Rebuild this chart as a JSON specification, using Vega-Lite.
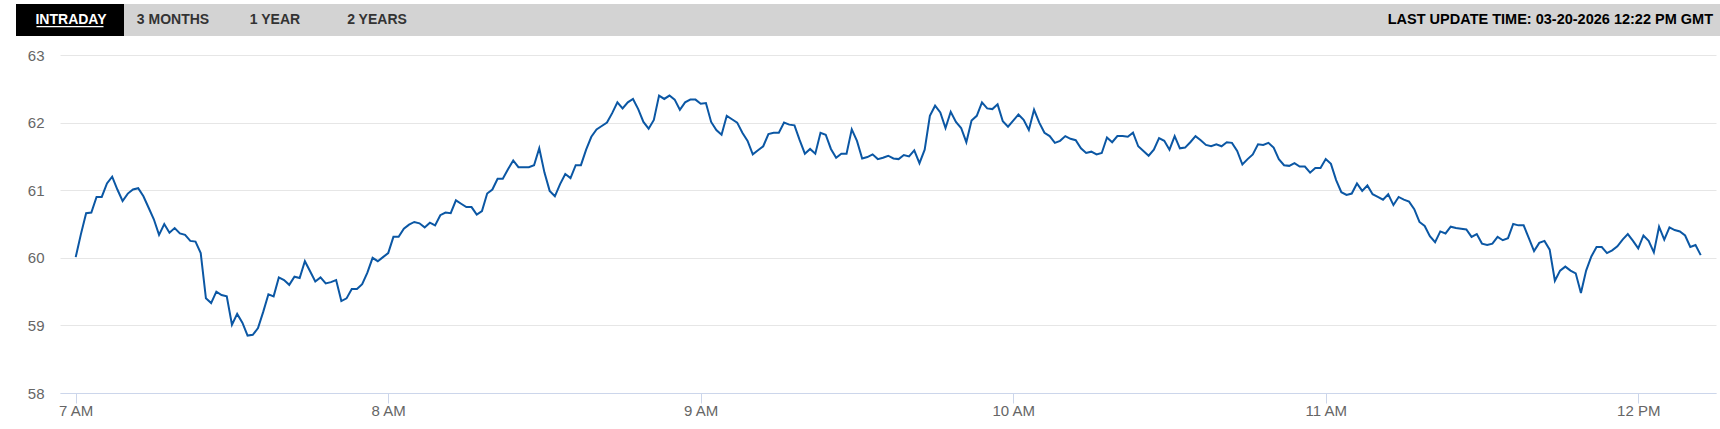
{
  "$schema": "https://vega.github.io/schema/vega-lite/v6.json",
  "background": "#ffffff",
  "width": 1720,
  "height": 429,
  "autosize": {"type": "fit", "contains": "padding"},
  "padding": 0,
  "config": {"view": {"stroke": null}, "font": "Liberation Sans"},
  "layer": [
    {
      "data": {
        "values": [
{"t":"2026-03-20T07:00:00Z","v":60.01},{"t":"2026-03-20T07:01:00Z","v":60.35},{"t":"2026-03-20T07:02:00Z","v":60.66},{"t":"2026-03-20T07:03:00Z","v":60.67},{"t":"2026-03-20T07:04:00Z","v":60.90},{"t":"2026-03-20T07:05:00Z","v":60.90},{"t":"2026-03-20T07:06:00Z","v":61.10},{"t":"2026-03-20T07:07:00Z","v":61.20},{"t":"2026-03-20T07:08:00Z","v":61.01},{"t":"2026-03-20T07:09:00Z","v":60.84},
{"t":"2026-03-20T07:10:00Z","v":60.95},{"t":"2026-03-20T07:11:00Z","v":61.01},{"t":"2026-03-20T07:12:00Z","v":61.03},{"t":"2026-03-20T07:13:00Z","v":60.91},{"t":"2026-03-20T07:14:00Z","v":60.74},{"t":"2026-03-20T07:15:00Z","v":60.57},{"t":"2026-03-20T07:16:00Z","v":60.34},{"t":"2026-03-20T07:17:00Z","v":60.50},{"t":"2026-03-20T07:18:00Z","v":60.37},{"t":"2026-03-20T07:19:00Z","v":60.44},
{"t":"2026-03-20T07:20:00Z","v":60.36},{"t":"2026-03-20T07:21:00Z","v":60.34},{"t":"2026-03-20T07:22:00Z","v":60.25},{"t":"2026-03-20T07:23:00Z","v":60.24},{"t":"2026-03-20T07:24:00Z","v":60.07},{"t":"2026-03-20T07:25:00Z","v":59.40},{"t":"2026-03-20T07:26:00Z","v":59.33},{"t":"2026-03-20T07:27:00Z","v":59.50},{"t":"2026-03-20T07:28:00Z","v":59.45},{"t":"2026-03-20T07:29:00Z","v":59.43},
{"t":"2026-03-20T07:30:00Z","v":59.01},{"t":"2026-03-20T07:31:00Z","v":59.17},{"t":"2026-03-20T07:32:00Z","v":59.04},{"t":"2026-03-20T07:33:00Z","v":58.85},{"t":"2026-03-20T07:34:00Z","v":58.86},{"t":"2026-03-20T07:35:00Z","v":58.96},{"t":"2026-03-20T07:36:00Z","v":59.20},{"t":"2026-03-20T07:37:00Z","v":59.46},{"t":"2026-03-20T07:38:00Z","v":59.43},{"t":"2026-03-20T07:39:00Z","v":59.71},
{"t":"2026-03-20T07:40:00Z","v":59.67},{"t":"2026-03-20T07:41:00Z","v":59.60},{"t":"2026-03-20T07:42:00Z","v":59.72},{"t":"2026-03-20T07:43:00Z","v":59.70},{"t":"2026-03-20T07:44:00Z","v":59.95},{"t":"2026-03-20T07:45:00Z","v":59.80},{"t":"2026-03-20T07:46:00Z","v":59.65},{"t":"2026-03-20T07:47:00Z","v":59.71},{"t":"2026-03-20T07:48:00Z","v":59.62},{"t":"2026-03-20T07:49:00Z","v":59.64},
{"t":"2026-03-20T07:50:00Z","v":59.67},{"t":"2026-03-20T07:51:00Z","v":59.36},{"t":"2026-03-20T07:52:00Z","v":59.40},{"t":"2026-03-20T07:53:00Z","v":59.54},{"t":"2026-03-20T07:54:00Z","v":59.54},{"t":"2026-03-20T07:55:00Z","v":59.61},{"t":"2026-03-20T07:56:00Z","v":59.78},{"t":"2026-03-20T07:57:00Z","v":60.00},{"t":"2026-03-20T07:58:00Z","v":59.95},{"t":"2026-03-20T07:59:00Z","v":60.01},
{"t":"2026-03-20T08:00:00Z","v":60.07},{"t":"2026-03-20T08:01:00Z","v":60.31},{"t":"2026-03-20T08:02:00Z","v":60.31},{"t":"2026-03-20T08:03:00Z","v":60.43},{"t":"2026-03-20T08:04:00Z","v":60.49},{"t":"2026-03-20T08:05:00Z","v":60.53},{"t":"2026-03-20T08:06:00Z","v":60.51},{"t":"2026-03-20T08:07:00Z","v":60.45},{"t":"2026-03-20T08:08:00Z","v":60.52},{"t":"2026-03-20T08:09:00Z","v":60.48},
{"t":"2026-03-20T08:10:00Z","v":60.63},{"t":"2026-03-20T08:11:00Z","v":60.67},{"t":"2026-03-20T08:12:00Z","v":60.66},{"t":"2026-03-20T08:13:00Z","v":60.85},{"t":"2026-03-20T08:14:00Z","v":60.80},{"t":"2026-03-20T08:15:00Z","v":60.75},{"t":"2026-03-20T08:16:00Z","v":60.75},{"t":"2026-03-20T08:17:00Z","v":60.64},{"t":"2026-03-20T08:18:00Z","v":60.69},{"t":"2026-03-20T08:19:00Z","v":60.95},
{"t":"2026-03-20T08:20:00Z","v":61.01},{"t":"2026-03-20T08:21:00Z","v":61.17},{"t":"2026-03-20T08:22:00Z","v":61.17},{"t":"2026-03-20T08:23:00Z","v":61.31},{"t":"2026-03-20T08:24:00Z","v":61.44},{"t":"2026-03-20T08:25:00Z","v":61.34},{"t":"2026-03-20T08:26:00Z","v":61.34},{"t":"2026-03-20T08:27:00Z","v":61.34},{"t":"2026-03-20T08:28:00Z","v":61.37},{"t":"2026-03-20T08:29:00Z","v":61.62},
{"t":"2026-03-20T08:30:00Z","v":61.26},{"t":"2026-03-20T08:31:00Z","v":60.99},{"t":"2026-03-20T08:32:00Z","v":60.91},{"t":"2026-03-20T08:33:00Z","v":61.09},{"t":"2026-03-20T08:34:00Z","v":61.24},{"t":"2026-03-20T08:35:00Z","v":61.18},{"t":"2026-03-20T08:36:00Z","v":61.37},{"t":"2026-03-20T08:37:00Z","v":61.37},{"t":"2026-03-20T08:38:00Z","v":61.60},{"t":"2026-03-20T08:39:00Z","v":61.79},
{"t":"2026-03-20T08:40:00Z","v":61.90},{"t":"2026-03-20T08:41:00Z","v":61.95},{"t":"2026-03-20T08:42:00Z","v":62.00},{"t":"2026-03-20T08:43:00Z","v":62.14},{"t":"2026-03-20T08:44:00Z","v":62.30},{"t":"2026-03-20T08:45:00Z","v":62.21},{"t":"2026-03-20T08:46:00Z","v":62.30},{"t":"2026-03-20T08:47:00Z","v":62.35},{"t":"2026-03-20T08:48:00Z","v":62.20},{"t":"2026-03-20T08:49:00Z","v":62.01},
{"t":"2026-03-20T08:50:00Z","v":61.91},{"t":"2026-03-20T08:51:00Z","v":62.04},{"t":"2026-03-20T08:52:00Z","v":62.40},{"t":"2026-03-20T08:53:00Z","v":62.35},{"t":"2026-03-20T08:54:00Z","v":62.40},{"t":"2026-03-20T08:55:00Z","v":62.34},{"t":"2026-03-20T08:56:00Z","v":62.19},{"t":"2026-03-20T08:57:00Z","v":62.30},{"t":"2026-03-20T08:58:00Z","v":62.34},{"t":"2026-03-20T08:59:00Z","v":62.34},
{"t":"2026-03-20T09:00:00Z","v":62.28},{"t":"2026-03-20T09:01:00Z","v":62.29},{"t":"2026-03-20T09:02:00Z","v":62.01},{"t":"2026-03-20T09:03:00Z","v":61.89},{"t":"2026-03-20T09:04:00Z","v":61.82},{"t":"2026-03-20T09:05:00Z","v":62.10},{"t":"2026-03-20T09:06:00Z","v":62.05},{"t":"2026-03-20T09:07:00Z","v":62.00},{"t":"2026-03-20T09:08:00Z","v":61.85},{"t":"2026-03-20T09:09:00Z","v":61.73},
{"t":"2026-03-20T09:10:00Z","v":61.53},{"t":"2026-03-20T09:11:00Z","v":61.59},{"t":"2026-03-20T09:12:00Z","v":61.65},{"t":"2026-03-20T09:13:00Z","v":61.83},{"t":"2026-03-20T09:14:00Z","v":61.85},{"t":"2026-03-20T09:15:00Z","v":61.85},{"t":"2026-03-20T09:16:00Z","v":62.00},{"t":"2026-03-20T09:17:00Z","v":61.97},{"t":"2026-03-20T09:18:00Z","v":61.96},{"t":"2026-03-20T09:19:00Z","v":61.74},
{"t":"2026-03-20T09:20:00Z","v":61.54},{"t":"2026-03-20T09:21:00Z","v":61.61},{"t":"2026-03-20T09:22:00Z","v":61.54},{"t":"2026-03-20T09:23:00Z","v":61.85},{"t":"2026-03-20T09:24:00Z","v":61.82},{"t":"2026-03-20T09:25:00Z","v":61.61},{"t":"2026-03-20T09:26:00Z","v":61.48},{"t":"2026-03-20T09:27:00Z","v":61.54},{"t":"2026-03-20T09:28:00Z","v":61.54},{"t":"2026-03-20T09:29:00Z","v":61.90},
{"t":"2026-03-20T09:30:00Z","v":61.73},{"t":"2026-03-20T09:31:00Z","v":61.47},{"t":"2026-03-20T09:32:00Z","v":61.49},{"t":"2026-03-20T09:33:00Z","v":61.53},{"t":"2026-03-20T09:34:00Z","v":61.46},{"t":"2026-03-20T09:35:00Z","v":61.48},{"t":"2026-03-20T09:36:00Z","v":61.51},{"t":"2026-03-20T09:37:00Z","v":61.47},{"t":"2026-03-20T09:38:00Z","v":61.46},{"t":"2026-03-20T09:39:00Z","v":61.52},
{"t":"2026-03-20T09:40:00Z","v":61.50},{"t":"2026-03-20T09:41:00Z","v":61.59},{"t":"2026-03-20T09:42:00Z","v":61.40},{"t":"2026-03-20T09:43:00Z","v":61.60},{"t":"2026-03-20T09:44:00Z","v":62.10},{"t":"2026-03-20T09:45:00Z","v":62.25},{"t":"2026-03-20T09:46:00Z","v":62.15},{"t":"2026-03-20T09:47:00Z","v":61.92},{"t":"2026-03-20T09:48:00Z","v":62.16},{"t":"2026-03-20T09:49:00Z","v":62.01},
{"t":"2026-03-20T09:50:00Z","v":61.92},{"t":"2026-03-20T09:51:00Z","v":61.71},{"t":"2026-03-20T09:52:00Z","v":62.03},{"t":"2026-03-20T09:53:00Z","v":62.10},{"t":"2026-03-20T09:54:00Z","v":62.30},{"t":"2026-03-20T09:55:00Z","v":62.21},{"t":"2026-03-20T09:56:00Z","v":62.20},{"t":"2026-03-20T09:57:00Z","v":62.27},{"t":"2026-03-20T09:58:00Z","v":62.02},{"t":"2026-03-20T09:59:00Z","v":61.94},
{"t":"2026-03-20T10:00:00Z","v":62.03},{"t":"2026-03-20T10:01:00Z","v":62.12},{"t":"2026-03-20T10:02:00Z","v":62.04},{"t":"2026-03-20T10:03:00Z","v":61.89},{"t":"2026-03-20T10:04:00Z","v":62.19},{"t":"2026-03-20T10:05:00Z","v":62.00},{"t":"2026-03-20T10:06:00Z","v":61.85},{"t":"2026-03-20T10:07:00Z","v":61.80},{"t":"2026-03-20T10:08:00Z","v":61.70},{"t":"2026-03-20T10:09:00Z","v":61.73},
{"t":"2026-03-20T10:10:00Z","v":61.80},{"t":"2026-03-20T10:11:00Z","v":61.76},{"t":"2026-03-20T10:12:00Z","v":61.74},{"t":"2026-03-20T10:13:00Z","v":61.62},{"t":"2026-03-20T10:14:00Z","v":61.55},{"t":"2026-03-20T10:15:00Z","v":61.57},{"t":"2026-03-20T10:16:00Z","v":61.53},{"t":"2026-03-20T10:17:00Z","v":61.55},{"t":"2026-03-20T10:18:00Z","v":61.78},{"t":"2026-03-20T10:19:00Z","v":61.71},
{"t":"2026-03-20T10:20:00Z","v":61.80},{"t":"2026-03-20T10:21:00Z","v":61.80},{"t":"2026-03-20T10:22:00Z","v":61.79},{"t":"2026-03-20T10:23:00Z","v":61.85},{"t":"2026-03-20T10:24:00Z","v":61.65},{"t":"2026-03-20T10:25:00Z","v":61.58},{"t":"2026-03-20T10:26:00Z","v":61.51},{"t":"2026-03-20T10:27:00Z","v":61.60},{"t":"2026-03-20T10:28:00Z","v":61.77},{"t":"2026-03-20T10:29:00Z","v":61.73},
{"t":"2026-03-20T10:30:00Z","v":61.60},{"t":"2026-03-20T10:31:00Z","v":61.80},{"t":"2026-03-20T10:32:00Z","v":61.62},{"t":"2026-03-20T10:33:00Z","v":61.63},{"t":"2026-03-20T10:34:00Z","v":61.71},{"t":"2026-03-20T10:35:00Z","v":61.80},{"t":"2026-03-20T10:36:00Z","v":61.74},{"t":"2026-03-20T10:37:00Z","v":61.67},{"t":"2026-03-20T10:38:00Z","v":61.65},{"t":"2026-03-20T10:39:00Z","v":61.68},
{"t":"2026-03-20T10:40:00Z","v":61.65},{"t":"2026-03-20T10:41:00Z","v":61.71},{"t":"2026-03-20T10:42:00Z","v":61.70},{"t":"2026-03-20T10:43:00Z","v":61.58},{"t":"2026-03-20T10:44:00Z","v":61.38},{"t":"2026-03-20T10:45:00Z","v":61.46},{"t":"2026-03-20T10:46:00Z","v":61.53},{"t":"2026-03-20T10:47:00Z","v":61.68},{"t":"2026-03-20T10:48:00Z","v":61.67},{"t":"2026-03-20T10:49:00Z","v":61.70},
{"t":"2026-03-20T10:50:00Z","v":61.63},{"t":"2026-03-20T10:51:00Z","v":61.46},{"t":"2026-03-20T10:52:00Z","v":61.37},{"t":"2026-03-20T10:53:00Z","v":61.36},{"t":"2026-03-20T10:54:00Z","v":61.40},{"t":"2026-03-20T10:55:00Z","v":61.35},{"t":"2026-03-20T10:56:00Z","v":61.35},{"t":"2026-03-20T10:57:00Z","v":61.26},{"t":"2026-03-20T10:58:00Z","v":61.33},{"t":"2026-03-20T10:59:00Z","v":61.33},
{"t":"2026-03-20T11:00:00Z","v":61.46},{"t":"2026-03-20T11:01:00Z","v":61.39},{"t":"2026-03-20T11:02:00Z","v":61.15},{"t":"2026-03-20T11:03:00Z","v":60.97},{"t":"2026-03-20T11:04:00Z","v":60.93},{"t":"2026-03-20T11:05:00Z","v":60.95},{"t":"2026-03-20T11:06:00Z","v":61.10},{"t":"2026-03-20T11:07:00Z","v":60.99},{"t":"2026-03-20T11:08:00Z","v":61.07},{"t":"2026-03-20T11:09:00Z","v":60.94},
{"t":"2026-03-20T11:10:00Z","v":60.90},{"t":"2026-03-20T11:11:00Z","v":60.86},{"t":"2026-03-20T11:12:00Z","v":60.94},{"t":"2026-03-20T11:13:00Z","v":60.78},{"t":"2026-03-20T11:14:00Z","v":60.90},{"t":"2026-03-20T11:15:00Z","v":60.86},{"t":"2026-03-20T11:16:00Z","v":60.83},{"t":"2026-03-20T11:17:00Z","v":60.72},{"t":"2026-03-20T11:18:00Z","v":60.53},{"t":"2026-03-20T11:19:00Z","v":60.47},
{"t":"2026-03-20T11:20:00Z","v":60.32},{"t":"2026-03-20T11:21:00Z","v":60.23},{"t":"2026-03-20T11:22:00Z","v":60.39},{"t":"2026-03-20T11:23:00Z","v":60.36},{"t":"2026-03-20T11:24:00Z","v":60.46},{"t":"2026-03-20T11:25:00Z","v":60.44},{"t":"2026-03-20T11:26:00Z","v":60.43},{"t":"2026-03-20T11:27:00Z","v":60.42},{"t":"2026-03-20T11:28:00Z","v":60.31},{"t":"2026-03-20T11:29:00Z","v":60.35},
{"t":"2026-03-20T11:30:00Z","v":60.21},{"t":"2026-03-20T11:31:00Z","v":60.19},{"t":"2026-03-20T11:32:00Z","v":60.21},{"t":"2026-03-20T11:33:00Z","v":60.31},{"t":"2026-03-20T11:34:00Z","v":60.26},{"t":"2026-03-20T11:35:00Z","v":60.29},{"t":"2026-03-20T11:36:00Z","v":60.50},{"t":"2026-03-20T11:37:00Z","v":60.48},{"t":"2026-03-20T11:38:00Z","v":60.48},{"t":"2026-03-20T11:39:00Z","v":60.29},
{"t":"2026-03-20T11:40:00Z","v":60.10},{"t":"2026-03-20T11:41:00Z","v":60.22},{"t":"2026-03-20T11:42:00Z","v":60.25},{"t":"2026-03-20T11:43:00Z","v":60.12},{"t":"2026-03-20T11:44:00Z","v":59.66},{"t":"2026-03-20T11:45:00Z","v":59.81},{"t":"2026-03-20T11:46:00Z","v":59.87},{"t":"2026-03-20T11:47:00Z","v":59.81},{"t":"2026-03-20T11:48:00Z","v":59.77},{"t":"2026-03-20T11:49:00Z","v":59.48},
{"t":"2026-03-20T11:50:00Z","v":59.81},{"t":"2026-03-20T11:51:00Z","v":60.02},{"t":"2026-03-20T11:52:00Z","v":60.16},{"t":"2026-03-20T11:53:00Z","v":60.16},{"t":"2026-03-20T11:54:00Z","v":60.07},{"t":"2026-03-20T11:55:00Z","v":60.11},{"t":"2026-03-20T11:56:00Z","v":60.17},{"t":"2026-03-20T11:57:00Z","v":60.27},{"t":"2026-03-20T11:58:00Z","v":60.35},{"t":"2026-03-20T11:59:00Z","v":60.25},
{"t":"2026-03-20T12:00:00Z","v":60.14},{"t":"2026-03-20T12:01:00Z","v":60.33},{"t":"2026-03-20T12:02:00Z","v":60.25},{"t":"2026-03-20T12:03:00Z","v":60.08},{"t":"2026-03-20T12:04:00Z","v":60.46},{"t":"2026-03-20T12:05:00Z","v":60.27},{"t":"2026-03-20T12:06:00Z","v":60.45},{"t":"2026-03-20T12:07:00Z","v":60.41},{"t":"2026-03-20T12:08:00Z","v":60.39},{"t":"2026-03-20T12:09:00Z","v":60.33},
{"t":"2026-03-20T12:10:00Z","v":60.16},{"t":"2026-03-20T12:11:00Z","v":60.19},{"t":"2026-03-20T12:12:00Z","v":60.04}
        ]
      },
      "mark": {"type": "line", "color": "#0b57a4", "strokeWidth": 2},
      "encoding": {
        "x": {
          "field": "t", "type": "temporal",
          "scale": {"type": "utc", "domain": [1773989819000, 1774008896000], "nice": false, "range": [60, 1716]},
          "axis": {"title": null, "offset": -36, "format": "%-I %p", "values": [1773990000000, 1773993600000, 1773997200000, 1774000800000, 1774004400000, 1774008000000], "grid": false, "domainColor": "#ccd6eb", "tickColor": "#ccd6eb", "tickSize": 10, "labelPadding": 0, "labelFontSize": 15, "labelColor": "#666666", "labelFlush": false, "labelOverlap": false}
        },
        "y": {
          "field": "v", "type": "quantitative",
          "scale": {"domain": [58, 63], "nice": false, "zero": false, "range": [393, 55]},
          "axis": {"title": null, "offset": -60, "values": [58, 59, 60, 61, 62, 63], "grid": true, "gridColor": "#e6e6e6", "domain": false, "ticks": false, "labelPadding": 16, "labelFontSize": 15, "labelColor": "#666666"}
        }
      }
    },
    {
      "data": {"values": [
        {"tab": "INTRADAY", "active": true},
        {"tab": "3 MONTHS", "active": false},
        {"tab": "1 YEAR", "active": false},
        {"tab": "2 YEARS", "active": false}
      ]},
      "layer": [
        {
          "transform": [{"filter": "datum.tab === 'INTRADAY'"}],
          "mark": {"type": "rect", "color": "#d3d3d3"},
          "encoding": {
            "x": {"datum": "bar", "type": "nominal", "axis": null, "scale": {"type": "band", "range": [16, 1720], "paddingInner": 0, "paddingOuter": 0}},
            "y": {"datum": "bar", "type": "nominal", "axis": null, "scale": {"type": "band", "range": [4, 36], "paddingInner": 0, "paddingOuter": 0}}
          }
        },
        {
          "transform": [{"filter": "datum.active"}],
          "layer": [
            {"mark": {"type": "rect", "color": "#000000"},
             "encoding": {
               "x": {"field": "tab", "type": "nominal", "axis": null, "scale": {"type": "band", "range": [16, 124], "paddingInner": 0, "paddingOuter": 0}},
               "y": {"datum": "bar", "type": "nominal", "axis": null}
             }},
            {"mark": {"type": "tick", "orient": "horizontal", "color": "#ffffff", "size": 67, "thickness": 1.3, "yOffset": 6.7, "opacity": 1},
             "encoding": {
               "x": {"field": "tab", "type": "nominal", "axis": null},
               "y": {"datum": "bar", "type": "nominal", "axis": null}
             }}
          ]
        },
        {
          "mark": {"type": "text", "font": "Liberation Sans", "fontSize": 14, "fontWeight": "bold"},
          "encoding": {
            "x": {"field": "tab", "type": "nominal", "axis": null, "sort": null, "scale": {"type": "point", "range": [71, 377], "padding": 0}},
            "y": {"datum": "bar", "type": "nominal", "axis": null},
            "text": {"field": "tab"},
            "color": {"condition": {"test": "datum.active", "value": "#ffffff"}, "value": "#333333"}
          }
        },
        {
          "data": {"values": [{"label": "LAST UPDATE TIME: 03-20-2026 12:22 PM GMT"}]},
          "mark": {"type": "text", "font": "Liberation Sans", "fontSize": 14.5, "fontWeight": "bold", "align": "right", "color": "#000000"},
          "encoding": {
            "x": {"field": "label", "type": "nominal", "axis": null, "scale": {"type": "point", "range": [1713, 1713], "padding": 0}},
            "y": {"datum": "bar", "type": "nominal", "axis": null},
            "text": {"field": "label"}
          }
        }
      ],
      "resolve": {"scale": {"x": "independent"}}
    }
  ],
  "resolve": {"scale": {"x": "independent", "y": "independent"}}
}
